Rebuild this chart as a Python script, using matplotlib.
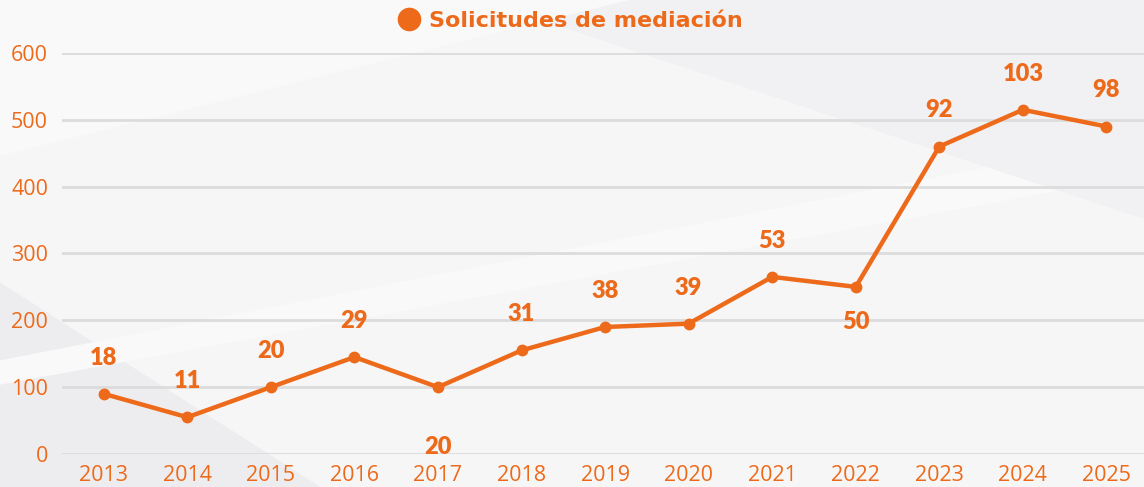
import matplotlib.pyplot as plt
from matplotlib.lines import Line2D
from matplotlib.patches import Polygon

years = ["2013", "2014", "2015", "2016", "2017", "2018", "2019",
         "2020", "2021", "2022", "2023", "2024", "2025"]
values = [90, 55, 100, 145, 100, 155, 190, 195, 265, 250, 460, 515, 490]
labels = ["18", "11", "20", "29", "20", "31", "38", "39", "53", "50", "92", "103", "98"]
# labels drawn under the point instead of above (offset in points)
below = {4: -43, 9: -25}

orange = "#ED6A1B"

fig = plt.figure(figsize=(11.44, 4.87), dpi=100)
fig.patch.set_facecolor("#f6f6f7")

# soft diagonal background shapes, on their own axes behind the chart
bg_ax = fig.add_axes([0, 0, 1, 1], zorder=-1)
bg_ax.set_xlim(0, 1)
bg_ax.set_ylim(0, 1)
bg_ax.axis("off")
bg = [
    ([(0, 0), (0, 0.42), (0.28, 0)], "#ededef"),
    ([(0, 0.26), (1, 0.72), (1, 0.64), (0, 0.21)], "#f9f9f9"),
    ([(0.42, 1), (1, 1), (1, 0.55)], "#f1f1f3"),
    ([(0, 0.68), (0.55, 1), (0, 1)], "#f9f9f9"),
]
for pts, col in bg:
    bg_ax.add_patch(Polygon(pts, closed=True, facecolor=col, edgecolor="none"))

ax = fig.add_axes([0.0542, 0.0678, 0.9458, 0.8234], zorder=1)
ax.set_facecolor("none")

x = list(range(len(years)))
ax.plot(x, values, color=orange, lw=3.2, marker="o", ms=7.5, zorder=3)

for i, (v, t) in enumerate(zip(values, labels)):
    dy = below.get(i, 26)
    ax.annotate(t, (i, v), xytext=(0, dy), textcoords="offset points",
                ha="center", va="center", color=orange, fontsize=17,
                fontweight="heavy", family="Lato")

ax.set_xlim(-0.5, 12.45)
ax.set_ylim(0, 600)
ax.set_yticks(range(0, 601, 100))
ax.set_xticks(x)
ax.set_xticklabels(years)
ax.grid(axis="y", color="#dcdcdc", lw=2)
ax.set_axisbelow(True)
for s in ax.spines.values():
    s.set_visible(False)
ax.tick_params(length=0, colors=orange, labelsize=15.5)
ax.tick_params(axis="x", pad=8)
ax.tick_params(axis="y", pad=10)
for lab in ax.get_xticklabels() + ax.get_yticklabels():
    lab.set_family("Open Sans")
    lab.set_color(orange)

handle = Line2D([], [], color=orange, marker="o", ls="none", ms=16)
leg = ax.legend([handle], ["Solicitudes de mediación"], loc="lower center",
                bbox_to_anchor=(0.465, 1.005), frameon=False, handletextpad=-0.1,
                prop={"family": "DejaVu Sans", "weight": "bold", "size": 16})
for txt in leg.get_texts():
    txt.set_color(orange)

fig.savefig("out.png", dpi=100, facecolor=fig.get_facecolor())
